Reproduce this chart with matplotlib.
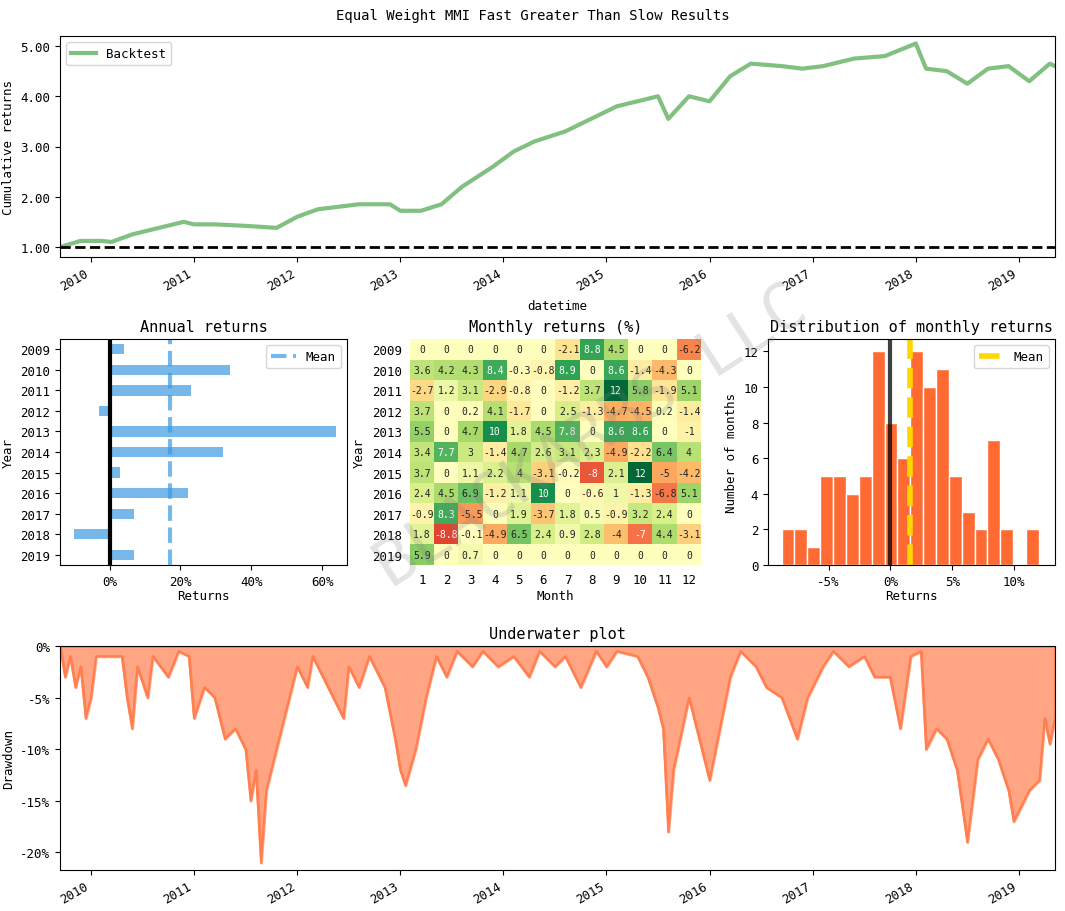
import numpy as np
import matplotlib
matplotlib.use("Agg")
import matplotlib.pyplot as plt
from matplotlib.colors import TwoSlopeNorm
from matplotlib.ticker import FuncFormatter

plt.rcParams['font.family'] = 'DejaVu Sans Mono'
plt.rcParams['font.size'] = 9

# cumulative returns (decimal year, value)
cum_t = [2009.70, 2009.9, 2010.1, 2010.2, 2010.4, 2010.6, 2010.9, 2011.0, 2011.2, 2011.5, 2011.8,
         2012.0, 2012.2, 2012.4, 2012.6, 2012.9, 2013.0, 2013.2, 2013.4, 2013.6, 2013.9, 2014.1,
         2014.3, 2014.6, 2014.9, 2015.1, 2015.3, 2015.5, 2015.6, 2015.8, 2016.0, 2016.2, 2016.4,
         2016.7, 2016.9, 2017.1, 2017.4, 2017.7, 2018.0, 2018.1, 2018.3, 2018.5, 2018.7, 2018.9,
         2019.1, 2019.3, 2019.35]
cum_v = [1.0, 1.12, 1.12, 1.10, 1.25, 1.35, 1.5, 1.45, 1.45, 1.42, 1.38,
         1.6, 1.75, 1.8, 1.85, 1.85, 1.72, 1.72, 1.85, 2.2, 2.6, 2.9,
         3.1, 3.3, 3.6, 3.8, 3.9, 4.0, 3.55, 4.0, 3.9, 4.4, 4.65,
         4.6, 4.55, 4.6, 4.75, 4.8, 5.05, 4.55, 4.5, 4.25, 4.55, 4.6,
         4.3, 4.65, 4.6]

years = [2009, 2010, 2011, 2012, 2013, 2014, 2015, 2016, 2017, 2018, 2019]
annual = [4, 34, 23, -3, 64, 32, 3, 22, 7, -10, 7]

monthly = [
    [0, 0, 0, 0, 0, 0, -2.1, 8.8, 4.5, 0, 0, -6.2],
    [3.6, 4.2, 4.3, 8.4, -0.3, -0.8, 8.9, 0, 8.6, -1.4, -4.3, 0],
    [-2.7, 1.2, 3.1, -2.9, -0.8, 0, -1.2, 3.7, 12, 5.8, -1.9, 5.1],
    [3.7, 0, 0.2, 4.1, -1.7, 0, 2.5, -1.3, -4.7, -4.5, 0.2, -1.4],
    [5.5, 0, 4.7, 10, 1.8, 4.5, 7.8, 0, 8.6, 8.6, 0, -1],
    [3.4, 7.7, 3, -1.4, 4.7, 2.6, 3.1, 2.3, -4.9, -2.2, 6.4, 4],
    [3.7, 0, 1.1, 2.2, 4, -3.1, -0.2, -8, 2.1, 12, -5, -4.2],
    [2.4, 4.5, 6.9, -1.2, 1.1, 10, 0, -0.6, 1, -1.3, -6.8, 5.1],
    [-0.9, 8.3, -5.5, 0, 1.9, -3.7, 1.8, 0.5, -0.9, 3.2, 2.4, 0],
    [1.8, -8.8, -0.1, -4.9, 6.5, 2.4, 0.9, 2.8, -4, -7, 4.4, -3.1],
    [5.9, 0, 0.7, 0, 0, 0, 0, 0, 0, 0, 0, 0],
]

hist_counts = [2, 2, 1, 5, 5, 4, 5, 12, 8, 6, 12, 10, 11, 5, 3, 2, 7, 2, 0, 2]
hist_lo, hist_hi = -8.8, 12.0
hist_mean = 1.6

dd_t = [2009.7, 2009.75, 2009.8, 2009.85, 2009.9, 2009.95, 2010.0, 2010.05, 2010.15, 2010.3,
        2010.35, 2010.4, 2010.45, 2010.55, 2010.6, 2010.75, 2010.85, 2010.95, 2011.0, 2011.1,
        2011.2, 2011.3, 2011.4, 2011.5, 2011.55, 2011.6, 2011.65, 2011.7, 2011.8, 2011.9,
        2012.0, 2012.1, 2012.15, 2012.3, 2012.45, 2012.5, 2012.6, 2012.7, 2012.85, 2012.95,
        2013.0, 2013.05, 2013.15, 2013.25, 2013.35, 2013.45, 2013.55, 2013.7, 2013.8, 2013.95,
        2014.1, 2014.25, 2014.35, 2014.5, 2014.6, 2014.75, 2014.9, 2015.0, 2015.1, 2015.3,
        2015.4, 2015.5, 2015.55, 2015.6, 2015.65, 2015.8, 2015.9, 2016.0, 2016.1, 2016.2,
        2016.3, 2016.45, 2016.55, 2016.7, 2016.85, 2016.95, 2017.1, 2017.2, 2017.35, 2017.5,
        2017.6, 2017.75, 2017.85, 2017.95, 2018.05, 2018.1, 2018.2, 2018.3, 2018.4, 2018.5,
        2018.55, 2018.6, 2018.7, 2018.8, 2018.9, 2018.95, 2019.05, 2019.1, 2019.2, 2019.25,
        2019.3, 2019.35]
dd_v = [0, -3, -1, -4, -2, -7, -5, -1, -1, -1,
        -5, -8, -2, -5, -1, -3, -0.5, -1, -7, -4,
        -5, -9, -8, -10, -15, -12, -21, -14, -10, -6,
        -2, -4, -1, -4, -7, -2, -4, -1, -4, -9,
        -12, -13.5, -10, -5, -1, -3, -0.5, -2, -0.5, -2,
        -1, -3, -0.5, -2, -1, -4, -0.5, -2, -0.5, -1,
        -3, -6, -8, -18, -12, -5, -9, -13, -8, -3,
        -0.5, -2, -4, -5, -9, -5, -2, -0.5, -2, -1,
        -3, -3, -8, -1, -0.5, -10, -8, -9, -12, -19,
        -15, -11, -9, -11, -14, -17, -15, -14, -13, -7,
        -9.5, -7]

W, H = 1065, 912
fig = plt.figure(figsize=(W / 100, H / 100), dpi=100)

def box(l, t, r, b):
    return fig.add_axes([l / W, 1 - b / H, (r - l) / W, (b - t) / H])

fig.text(0.5, 1 - 16 / H, 'Equal Weight MMI Fast Greater Than Slow Results', ha='center', va='center', fontsize=10)

# cumulative returns
ax = box(60, 37, 1055, 258)
ax.plot(cum_t, cum_v, color='#4ca64c', alpha=0.7, lw=3, label='Backtest')
ax.axhline(1.0, color='black', ls='--', lw=2)
ax.set_xlim(2009.7, 2019.35)
ax.set_ylim(0.8, 5.2)
ax.set_yticks([1, 2, 3, 4, 5])
ax.yaxis.set_major_formatter(FuncFormatter(lambda v, p: '%.2f' % v))
ax.set_xticks(years[1:])
ax.set_xticklabels([str(y) for y in years[1:]], rotation=30, ha='right')
ax.set_ylabel('Cumulative returns')
ax.set_xlabel('datetime')
ax.legend(loc='upper left', frameon=True)

# annual returns
ax = box(60, 340, 347, 566)
ax.barh(range(len(years)), annual, color='#3b9ae1', alpha=0.7, height=0.5)
ax.axvline(0, color='black', lw=3)
mean_ann = 17
ax.axvline(mean_ann, color='#3b9ae1', ls='--', lw=3, alpha=0.7, label='Mean')
ax.set_yticks(range(len(years)))
ax.set_yticklabels([str(y) for y in years])
ax.set_ylim(len(years) - 0.5, -0.5)
ax.set_xlim(-14, 67)
ax.set_xticks([0, 20, 40, 60])
ax.xaxis.set_major_formatter(FuncFormatter(lambda v, p: '%d%%' % v))
ax.set_xlabel('Returns', labelpad=1)
ax.set_ylabel('Year')
ax.set_title('Annual returns', fontsize=11)
ax.legend(loc='upper right')

# monthly heatmap
ax = box(410, 340, 701, 566)
arr = np.array(monthly)
ax.imshow(arr, cmap='RdYlGn', norm=TwoSlopeNorm(0, -12, 12), aspect='auto')
for i in range(arr.shape[0]):
    for j in range(arr.shape[1]):
        v = arr[i, j]
        ax.text(j, i, '%g' % v, ha='center', va='center', fontsize=7,
                color='white' if abs(v) >= 7 else '#222222')
ax.set_xticks(range(12))
ax.set_xticklabels([str(m) for m in range(1, 13)])
ax.set_yticks(range(len(years)))
ax.set_yticklabels([str(y) for y in years])
for s in ax.spines.values():
    s.set_visible(False)
ax.tick_params(length=0, pad=6)
ax.set_xlabel('Month', labelpad=2)
ax.set_ylabel('Year')
ax.set_title('Monthly returns (%)', fontsize=11)

# distribution
ax = box(768, 340, 1055, 566)
edges = np.linspace(hist_lo, hist_hi, len(hist_counts) + 1)
ax.bar(edges[:-1], hist_counts, width=edges[1] - edges[0], align='edge',
       color='#ff6a33', edgecolor='white', lw=1)
ax.axvline(0, color='black', lw=3, alpha=0.75)
ax.axvline(hist_mean, color='gold', ls='--', lw=4, label='Mean')
ax.set_xlim(-9.9, 13.3)
ax.set_ylim(0, 12.7)
ax.set_xticks([-5, 0, 5, 10])
ax.xaxis.set_major_formatter(FuncFormatter(lambda v, p: '%d%%' % v))
ax.set_yticks([0, 2, 4, 6, 8, 10, 12])
ax.set_xlabel('Returns', labelpad=1)
ax.set_ylabel('Number of months')
ax.set_title('Distribution of monthly returns', fontsize=11)
ax.legend(loc='upper right')

# underwater
ax = box(60, 647, 1055, 871)
ax.fill_between(dd_t, dd_v, 0, color='#ff6a33', alpha=0.6, lw=2)
ax.plot(dd_t, dd_v, color='#ff7f50', lw=1.5)
ax.set_xlim(2009.7, 2019.35)
ax.set_ylim(-21.7, 0)
ax.set_yticks([0, -5, -10, -15, -20])
ax.yaxis.set_major_formatter(FuncFormatter(lambda v, p: '%d%%' % v))
ax.set_xticks(years[1:])
ax.set_xticklabels([str(y) for y in years[1:]], rotation=30, ha='right')
ax.set_ylabel('Drawdown')
ax.set_title('Underwater plot', fontsize=11)

fig.text(0.555, 0.52, 'BLACKARBS LLC', fontsize=46, color='gray', alpha=0.22,
         rotation=33, ha='center', va='center', fontweight='light')

fig.savefig('out.png', dpi=100)
